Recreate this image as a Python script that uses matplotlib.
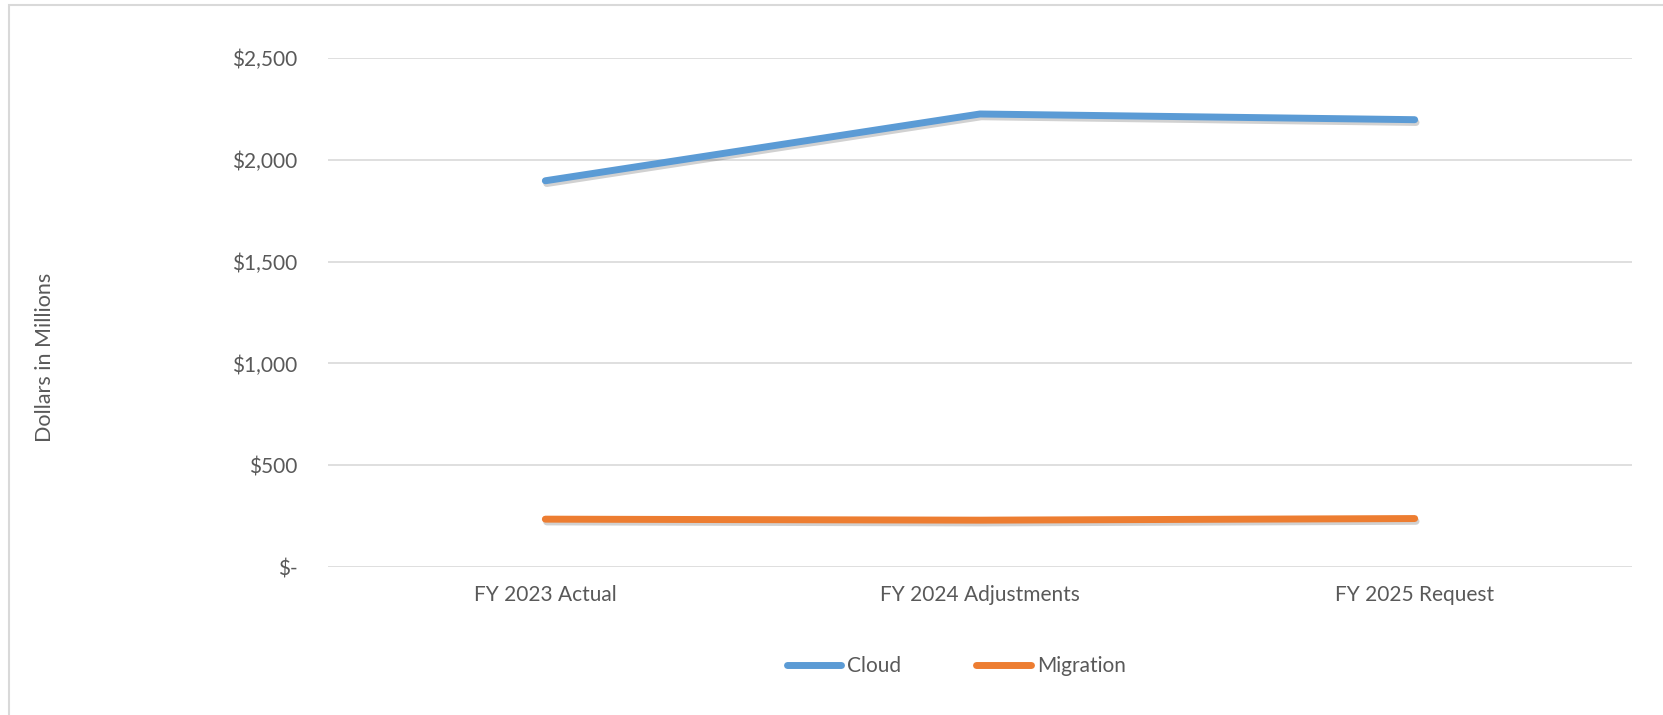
import matplotlib.pyplot as plt
import matplotlib.patheffects as pe
from matplotlib.patches import Rectangle

# data
categories = ["FY 2023 Actual", "FY 2024 Adjustments", "FY 2025 Request"]
cloud = [1897, 2225, 2197]
migration = [235, 230, 238]
yticks = [0, 500, 1000, 1500, 2000, 2500]
ytick_labels = ["$-", "$500", "$1,000", "$1,500", "$2,000", "$2,500"]

plt.rcParams['font.family'] = ['Lato', 'DejaVu Sans']
text_color = "#595959"

fig = plt.figure(figsize=(16.63, 7.15), dpi=100)
ax = fig.add_axes([328 / 1663, 1 - 567 / 715, (1632 - 328) / 1663, (567 - 58) / 715])

# chart frame (only top and left edges are visible in the crop)
fig.patches.append(Rectangle((9 / 1663, -0.1), 1.2, 1 - 5.5 / 715 + 0.1,
                             transform=fig.transFigure, fill=False,
                             edgecolor="#D9D9D9", linewidth=1.5))

shadow = [pe.SimpleLineShadow(offset=(1, -2), shadow_color="#000000", alpha=0.18),
          pe.Normal()]
x = range(len(categories))
ax.plot(x, cloud, color="#5B9BD5", linewidth=5, solid_capstyle="round",
        solid_joinstyle="round", label="Cloud", path_effects=shadow, zorder=3)
ax.plot(x, migration, color="#ED7D31", linewidth=5, solid_capstyle="round",
        solid_joinstyle="round", label="Migration", path_effects=shadow, zorder=3)

ax.set_xlim(-0.5, 2.5)
ax.set_ylim(0, 2500)
ax.set_yticks(yticks)
ax.set_yticklabels(ytick_labels)
ax.set_xticks(list(x))
ax.set_xticklabels(categories)
ax.tick_params(axis="both", length=0, labelsize=15, colors=text_color)
ax.tick_params(axis="y", pad=22)
ax.tick_params(axis="x", pad=13)
ax.grid(axis="y", color="#D9D9D9", linewidth=1.2)
ax.set_axisbelow(True)
for s in ax.spines.values():
    s.set_visible(False)

fig.text(45 / 1663, 1 - 357 / 715, "Dollars in Millions", rotation=90,
         ha="center", va="center", fontsize=15.5, color=text_color)

leg = fig.legend(loc="center", bbox_to_anchor=(0.575, 1 - 666 / 715), ncol=2,
                 frameon=False, fontsize=15, handlelength=2.6, handletextpad=0.3,
                 columnspacing=3.6)
for t in leg.get_texts():
    t.set_color(text_color)
for h in leg.get_lines():
    h.set_path_effects([])

fig.savefig("out.png", dpi=100)
